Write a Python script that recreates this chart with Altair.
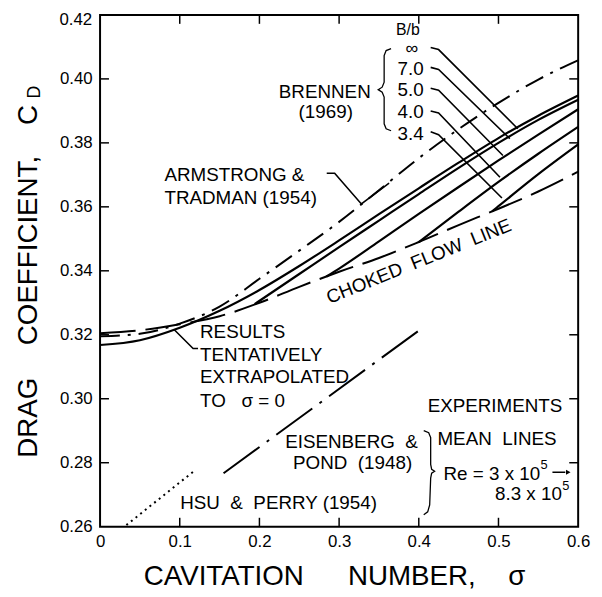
import altair as alt
import pandas as pd

FONT = "Liberation Sans"
W, H = 483, 517          # plot area
X0, Y0 = 101, 12         # page position of plot origin (for annotations)
SMIN, SMAX = 0.0, 0.6
CMIN, CMAX = 0.26, 0.42

# ---------------- data ----------------
sigma_inf = [0, 0.05, 0.1, 0.15, 0.2, 0.25, 0.3, 0.35, 0.4, 0.45, 0.5, 0.55, 0.6]
cd_inf = [0.3168, 0.3183, 0.3222, 0.3275, 0.3340, 0.3415, 0.3495, 0.3577, 0.3658, 0.3738, 0.3815, 0.3885, 0.3948]
sigma_70 = [0.194, 0.25, 0.3, 0.35, 0.4, 0.45, 0.5, 0.55, 0.6]
cd_70 = [0.3296, 0.3390, 0.3474, 0.3557, 0.3640, 0.3722, 0.3800, 0.3872, 0.3935]
sigma_50 = [0.284, 0.3, 0.35, 0.4, 0.45, 0.5, 0.55, 0.6]
cd_50 = [0.3382, 0.3407, 0.3492, 0.3578, 0.3662, 0.3745, 0.3826, 0.3905]
sigma_40 = [0.40, 0.45, 0.5, 0.55, 0.6]
cd_40 = [0.3490, 0.3585, 0.3678, 0.3766, 0.3850]
sigma_34 = [0.492, 0.5, 0.55, 0.6]
cd_34 = [0.3586, 0.3602, 0.3702, 0.3795]

sigma_choked = [0, 0.05, 0.1, 0.15, 0.2, 0.25, 0.3, 0.35, 0.4, 0.45, 0.5, 0.55, 0.6]
cd_choked = [0.3205, 0.3214, 0.3233, 0.3258, 0.3300, 0.3350, 0.3397, 0.3440, 0.3490, 0.3543, 0.3594, 0.3648, 0.3710]

sigma_armstrong = [0, 0.05, 0.1, 0.15, 0.2, 0.25, 0.3, 0.35, 0.4, 0.45, 0.5, 0.55, 0.6]
cd_armstrong = [0.3195, 0.3203, 0.3235, 0.3288, 0.3375, 0.3463, 0.3553, 0.3652, 0.3752, 0.3843, 0.3925, 0.3998, 0.4058]

sigma_eisenberg = [0.155, 0.40]
cd_eisenberg = [0.2767, 0.3213]

sigma_hsu = [0.033, 0.119]
cd_hsu = [0.2605, 0.2776]

x_tick_values = [0.0, 0.1, 0.2, 0.3, 0.4, 0.5, 0.6]
y_tick_values = [0.26, 0.28, 0.30, 0.32, 0.34, 0.36, 0.38, 0.40]
top_y_label = "0.42"
inner_x_ticks = [0.1, 0.2, 0.3, 0.4, 0.5]
inner_y_ticks = [0.28, 0.30, 0.32, 0.34, 0.36, 0.38, 0.40]

# ---------------- encodings ----------------
xscale = alt.Scale(domain=[SMIN, SMAX], nice=False, zero=False)
yscale = alt.Scale(domain=[CMIN, CMAX], nice=False, zero=False)
xaxis = alt.Axis(values=x_tick_values, labelExpr="datum.value == 0 ? '0' : format(datum.value, '.1f')",
                 ticks=False, domain=False, grid=False, title=None, labelFontSize=17,
                 labelFont=FONT, labelColor="black", labelPadding=7, labelFlush=False)
yaxis = alt.Axis(values=y_tick_values, format=".2f", ticks=False, domain=False, grid=False,
                 title=None, labelFontSize=17, labelFont=FONT, labelColor="black",
                 labelPadding=8, labelFlush=False)
X = alt.X("s:Q", scale=xscale, axis=xaxis)
Y = alt.Y("c:Q", scale=yscale, axis=yaxis)


def series(sig, cd, **mk):
    df = pd.DataFrame({"s": sig, "c": cd})
    return alt.Chart(df).mark_line(color="black", interpolate="monotone", **mk).encode(x=X, y=Y)


def to_data(points):
    """annotation polyline given in page pixels -> data units"""
    s = [(p[0] - X0) / W * (SMAX - SMIN) + SMIN for p in points]
    c = [CMAX - (p[1] - Y0) / H * (CMAX - CMIN) for p in points]
    return s, c


def polyline(points, width=1.6):
    s, c = to_data(points)
    df = pd.DataFrame({"s": s, "c": c, "o": list(range(len(s)))})
    return alt.Chart(df).mark_line(color="black", strokeWidth=width).encode(x=X, y=Y, order="o:Q")


def label(text, x, y, size=19, align="left", angle=0, baseline="middle"):
    return alt.Chart(pd.DataFrame({"t": [text]})).mark_text(
        align=align, baseline=baseline, fontSize=size, font=FONT, angle=angle, color="black"
    ).encode(x=alt.value(x - X0), y=alt.value(y - Y0), text="t:N")


NB = "\u00a0"
layers = []

# curves
for sg, cd in [(sigma_inf, cd_inf), (sigma_70, cd_70), (sigma_50, cd_50), (sigma_40, cd_40), (sigma_34, cd_34)]:
    layers.append(series(sg, cd, strokeWidth=2.2))
layers.append(series(sigma_choked, cd_choked, strokeWidth=2, strokeDash=[36, 10]))
layers.append(series(sigma_armstrong, cd_armstrong, strokeWidth=2, strokeDash=[20, 8, 3, 8]))
layers.append(series(sigma_eisenberg, cd_eisenberg, strokeWidth=2, strokeDash=[45, 9, 3, 9]))
layers.append(series(sigma_hsu, cd_hsu, strokeWidth=2, strokeDash=[2, 4]))

# inward ticks
dxt = pd.DataFrame({"s": inner_x_ticks})
dyt = pd.DataFrame({"c": inner_y_ticks})
layers.append(alt.Chart(dxt).mark_rule(color="black", strokeWidth=1.5).encode(x=X, y=alt.value(H), y2=alt.value(H - 9)))
layers.append(alt.Chart(dxt).mark_rule(color="black", strokeWidth=1.5).encode(x=X, y=alt.value(0), y2=alt.value(9)))
layers.append(alt.Chart(dyt).mark_rule(color="black", strokeWidth=1.5).encode(y=Y, x=alt.value(0), x2=alt.value(9)))
layers.append(alt.Chart(dyt).mark_rule(color="black", strokeWidth=1.5).encode(y=Y, x=alt.value(W), x2=alt.value(W - 9)))

# pointers / braces (page-pixel decoration)
layers.append(polyline([(435, 45), (443, 47), (523, 127)]))
layers.append(polyline([(435, 65), (443, 67), (515, 137)]))
layers.append(polyline([(435, 86), (443, 88), (508, 154)]))
layers.append(polyline([(435, 109), (443, 111), (505, 176)]))
layers.append(polyline([(435, 130), (443, 133), (507, 197)]))
layers.append(polyline([(330, 172), (338, 172), (365, 203), (393, 182)]))
layers.append(polyline([(176, 330), (195, 349), (200, 349)]))
layers.append(polyline([(395, 46), (390, 48), (388, 53), (388, 80), (386, 85), (382, 87.5),
                        (386, 90), (388, 95), (388, 122), (390, 127), (395, 129)], width=1.3))
layers.append(polyline([(428, 432), (433, 434), (435, 439), (435, 466), (436, 471), (439, 473),
                        (436, 475), (435, 480), (434, 507), (432, 514), (428, 517)], width=1.3))
layers.append(polyline([(558, 474), (571, 474)], width=1.5))
layers.append(alt.Chart(pd.DataFrame({"a": [0]})).mark_point(
    shape="triangle-right", filled=True, size=28, color="black", opacity=1
).encode(x=alt.value(574 - X0), y=alt.value(474 - Y0)))

# annotation texts
layers += [
    label(top_y_label, 93, 17, size=17, align="right"),
    label("B/b", 412, 27, size=16, align="center"),
    label("\u221e", 416, 46, size=18, align="center"),
    label("7.0", 428, 67, align="right"),
    label("5.0", 428, 88, align="right"),
    label("4.0", 428, 110, align="right"),
    label("3.4", 428, 132, align="right"),
    label("BRENNEN", 328, 90, align="center"),
    label("(1969)", 329, 110, align="center"),
    label("ARMSTRONG" + NB + "&", 166, 174),
    label("TRADMAN (1954)", 166, 197),
    label("RESULTS", 202, 332),
    label("TENTATIVELY", 202, 356),
    label("EXTRAPOLATED", 202, 378),
    label("TO" + NB * 3 + "\u03c3 = 0", 202, 402),
    label("EXPERIMENTS", 500, 407, align="center"),
    label("MEAN" + NB * 2 + "LINES", 502, 440, align="center"),
    label("Re = 3 x 10", 448, 476),
    label("5", 546, 467, size=13),
    label("8.3 x 10", 500, 496),
    label("5", 568, 488, size=13),
    label("EISENBERG" + NB * 2 + "&", 288, 443),
    label("POND" + NB * 2 + "(1948)", 296, 465),
    label("HSU" + NB * 2 + "&" + NB * 2 + "PERRY (1954)", 182, 505),
    label("CHOKED" + NB * 2 + "FLOW" + NB * 2 + "LINE", 423, 261, angle=338, align="center"),
    # axis titles
    label("CAVITATION", 226, 588, size=28, align="center", baseline="alphabetic"),
    label("NUMBER,", 416, 588, size=28, align="center", baseline="alphabetic"),
    label("\u03c3", 522, 588, size=28, align="center", baseline="alphabetic"),
    label("DRAG", 37, 419, size=28, align="center", angle=270, baseline="alphabetic"),
    label("COEFFICIENT,", 37, 250, size=28, align="center", angle=270, baseline="alphabetic"),
    label("C", 37, 113, size=28, align="center", angle=270, baseline="alphabetic"),
    label("D", 40, 90, size=18, align="center", angle=270, baseline="alphabetic"),
]

chart = alt.layer(*layers).properties(
    width=W, height=H,
    autosize=alt.AutoSizeParams(type="none"),
    padding={"left": 93, "top": 4, "right": 16, "bottom": 65},
    background="white",
).configure_view(stroke="black", strokeWidth=2)

chart.save("out.html", embed_options={"renderer": "svg", "actions": False})
